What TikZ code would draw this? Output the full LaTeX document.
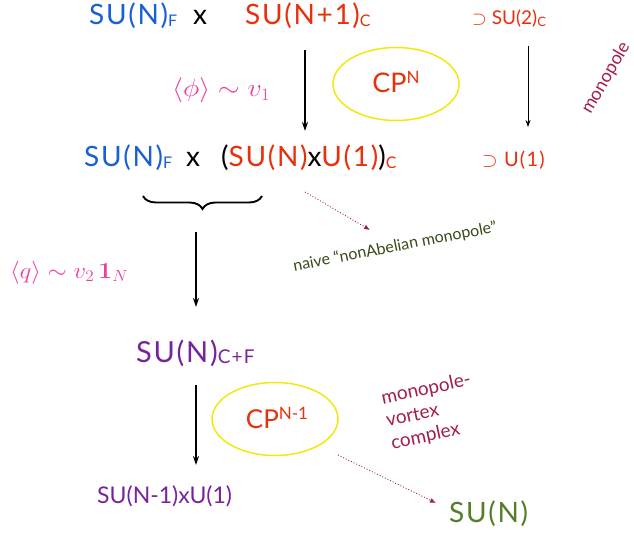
\RequirePackage{fix-cm}
\documentclass[tikz,border=0pt]{standalone}
\usepackage{amsmath,amssymb}
\usepackage[no-math]{fontspec}
\setmainfont{Lato}
\newfontfamily\widefont[LetterSpace=6]{Lato}
\usetikzlibrary{shapes.geometric,decorations.pathreplacing,arrows.meta}
\definecolor{cblue}{RGB}{25,95,215}
\definecolor{cred}{RGB}{232,48,12}
\definecolor{cpink}{RGB}{238,60,160}
\definecolor{cpurple}{RGB}{120,35,155}
\definecolor{cgreen}{RGB}{85,125,40}
\definecolor{cdkgreen}{RGB}{55,75,25}
\definecolor{cmaroon}{RGB}{160,30,80}
\definecolor{cyellow}{RGB}{242,232,10}
\newcommand{\lsub}[1]{\raisebox{-1.5pt}{\fontsize{16}{16}\selectfont #1}}
\newcommand{\lsup}[1]{\raisebox{9pt}{\fontsize{17}{17}\selectfont #1}}
\begin{document}
\begin{tikzpicture}[x=1pt,y=-1pt,
  txt/.style={inner sep=0, anchor=base west},
  bigtxt/.style={txt, font=\widefont\fontsize{28}{30}\selectfont},
  midtxt/.style={txt, font=\fontsize{19}{22}\selectfont},
  pinkmath/.style={txt, text=cpink},
  oval/.style={ellipse, draw=cyellow, line width=1.5pt, minimum width=126, minimum height=73, inner sep=0},
  mainarrow/.style={-{Stealth[length=9pt,width=6pt]}, line width=1.3pt, black},
  thinarrow/.style={-{Stealth[length=7pt,width=5pt]}, line width=0.7pt, black},
  dotarrow/.style={-{Latex[length=6pt,width=5pt]}, dotted, line width=0.9pt, cmaroon},
  note/.style={inner sep=0, font=\fontsize{19}{23}\selectfont, text=cmaroon}
]
\useasboundingbox (0,0) rectangle (634,537);

% row 1
\node[bigtxt, text=cblue] (r1f) at (89,25) {SU(N)\lsub{F}};
\node[bigtxt] (r1x) at (193,25) {x};
\node[bigtxt, text=cred] (r1c) at (245,25) {SU(N+1)\lsub{C}};
\node[midtxt, text=cred] (r1s) at (472,25) {$\supset$ SU(2)\lsub{\fontsize{13}{13}\selectfont C}};

% row 2
\node[bigtxt, text=cblue] (r2f) at (84,167) {SU(N)\lsub{F}};
\node[bigtxt] (r2x) at (186,167) {x};
\node[bigtxt] (r2c) at (221,167) {(\textcolor{cred}{SU(N)}x\textcolor{cred}{U(1)})\textcolor{cred}{\lsub{C}}};
\node[midtxt, text=cred, font=\widefont\fontsize{20}{22}\selectfont] (r2s) at (482,167) {$\supset$ U(1)};

% ellipses
\node[oval] (e1) at (396,84) {};
\node[inner sep=0, text=cred, font=\fontsize{27}{30}\selectfont] (cp1) at (396,82) {CP\lsup{N}};
\node[oval] (e2) at (275,419) {};
\node[inner sep=0, text=cred, font=\fontsize{26}{30}\selectfont] (cp2) at (277,418) {CP\lsup{N-1}};

% math labels
\node[pinkmath, font=\fontsize{25}{28}\selectfont, xscale=1.12] (phi) at (172,97) {$\langle\phi\rangle\sim v_1$};
\node[pinkmath, font=\fontsize{23}{26}\selectfont, xscale=1.07] (qv) at (10,278) {$\langle q\rangle\sim v_2\,\mathbf{1}_N$};

% arrows
\coordinate (a1s) at (305,50);
\coordinate (a1e) at (305,131);
\draw[mainarrow] (a1s) -- (a1e);
\coordinate (a2s) at (528,46);
\coordinate (a2e) at (528,127);
\draw[thinarrow] (a2s) -- (a2e);

% brace
\coordinate (bR) at (262,196);
\coordinate (bL) at (143,196);
\draw[line width=1.9pt, decorate, decoration={brace, amplitude=13pt}] (bR) -- (bL);

\coordinate (a3s) at (196,232);
\coordinate (a3e) at (196,307);
\draw[mainarrow] (a3s) -- (a3e);

% dotted arrows
\coordinate (d1s) at (305,192);
\coordinate (d1e) at (370,230);
\draw[dotarrow] (d1s) -- (d1e);

\node[inner sep=0, text=cdkgreen, font=\fontsize{16}{18}\selectfont, rotate=11] (naive) at (395,247) {naive “nonAbelian monopole”};

% SU(N)C+F
\node[txt, text=cpurple, font=\widefont\fontsize{29}{32}\selectfont] (cf) at (136,362) {SU(N)\raisebox{-1.5pt}{\fontsize{19}{19}\selectfont C+F}};

\coordinate (a4s) at (196,385);
\coordinate (a4e) at (196,465);
\draw[mainarrow] (a4s) -- (a4e);

\node[txt, text=cpurple, font=\fontsize{23}{26}\selectfont] (bot) at (97,503) {SU(N-1)xU(1)};

\coordinate (d2s) at (338,455);
\coordinate (d2e) at (436,503);
\draw[dotarrow] (d2s) -- (d2e);

\node[txt, text=cgreen, font=\widefont\fontsize{28}{30}\selectfont] (sun) at (449,522) {SU(N)};

% notes
\node[note, rotate=60, font=\fontsize{18}{22}\selectfont] (mono) at (606,78) {monopole};
\node[note, rotate=12, align=left] (mvc) at (431,412) {monopole-\\vortex\\complex};
\end{tikzpicture}
\end{document}
